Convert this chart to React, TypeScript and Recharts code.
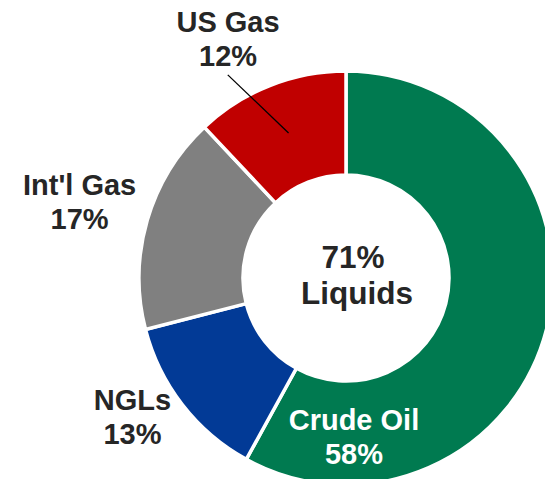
import React from 'react';
import { PieChart, Pie, Cell } from 'recharts';

const segments = ['Crude Oil', 'NGLs', "Int'l Gas", 'US Gas'];
const shares = [58, 13, 17, 12];
const segmentColors = ['#007A50', '#023A96', '#808080', '#C00000'];
const centerLines = ['71%', 'Liquids'];

const pieData = segments.map((name, i) => ({ name, value: shares[i] }));

// where each label's first baseline sits, in polar terms from the pie centre
const labelPlacement: Record<string, { angle: number; radius: number; color: string }> = {
  'Crude Oil': { angle: 273, radius: 152, color: '#FFFFFF' },
  NGLs: { angle: 211.7, radius: 251, color: '#262626' },
  "Int'l Gas": { angle: 162.7, radius: 279, color: '#262626' },
  'US Gas': { angle: 115.6, radius: 273, color: '#262626' },
};

const RAD = Math.PI / 180;
const FONT = '"Liberation Sans", Arial, sans-serif';

function polar(cx: number, cy: number, r: number, angle: number) {
  return { x: cx + r * Math.cos(angle * RAD), y: cy - r * Math.sin(angle * RAD) };
}

function CenterText({ cx, cy }: { cx: number; cy: number }) {
  return (
    <text
      x={cx + 9}
      y={cy - 10}
      textAnchor="middle"
      fill="#262626"
      style={{ fontFamily: FONT, fontWeight: 700, fontSize: 31.5 }}
    >
      <tspan x={cx + 7}>{centerLines[0]}</tspan>
      <tspan x={cx + 11} dy={36}>{centerLines[1]}</tspan>
    </text>
  );
}

function SliceLabel(props: any) {
  const { cx, cy, name, value, midAngle, index } = props;
  const place = labelPlacement[name];
  if (!place) return null;
  const p = polar(cx, cy, place.radius, place.angle);
  let leader = null;
  if (name === 'US Gas') {
    const a = polar(cx, cy, 156, midAngle);
    const b = polar(cx, cy, 235, 120.2);
    leader = <line x1={a.x} y1={a.y} x2={b.x} y2={b.y} stroke="#000" strokeWidth={1.3} />;
  }
  return (
    <g>
      {index === 0 && <CenterText cx={cx} cy={cy} />}
      {leader}
      <text
        x={p.x}
        y={p.y}
        textAnchor="middle"
        fill={place.color}
        style={{ fontFamily: FONT, fontWeight: 700, fontSize: 29 }}
      >
        <tspan x={p.x}>{name}</tspan>
        <tspan x={p.x} dy={34}>{`${value}%`}</tspan>
      </text>
    </g>
  );
}

export default function App() {
  return (
    <div style={{ position: 'fixed', left: 0, top: 0, width: 545, height: 479, background: '#fff' }}>
      <PieChart width={545} height={479} margin={{ top: 0, right: 0, bottom: 0, left: 0 }}>
        <Pie
          data={pieData}
          dataKey="value"
          nameKey="name"
          cx={346}
          cy={278}
          innerRadius={103}
          outerRadius={207}
          startAngle={90}
          endAngle={-270}
          stroke="#FFFFFF"
          strokeWidth={3.5}
          label={SliceLabel}
          labelLine={false}
          isAnimationActive={false}
        >
          {pieData.map((entry, index) => (
            <Cell key={`cell-${entry.name}`} fill={segmentColors[index]} />
          ))}
        </Pie>
      </PieChart>
    </div>
  );
}
